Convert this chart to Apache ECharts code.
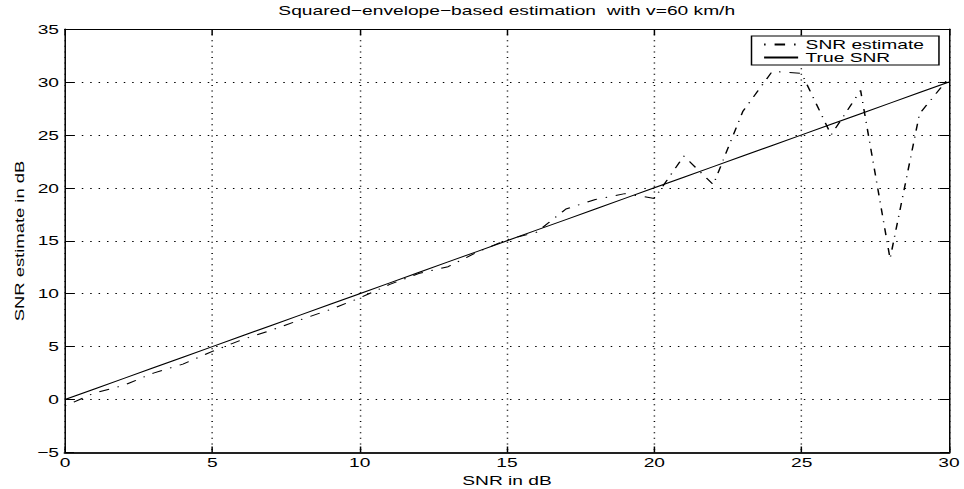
<!DOCTYPE html>
<html>
<head>
<meta charset="utf-8">
<script src="https://cdn.jsdelivr.net/npm/echarts@6/dist/echarts.min.js"></script>
<style>
  html, body { margin: 0; padding: 0; background: #fff; overflow: hidden; }
  #wrap { width: 964px; height: 489px; overflow: hidden; }
  /* the figure is laid out narrow and widened, as in the exported plot */
  #chart { width: 643px; height: 489px; transform: scaleX(1.49922); transform-origin: 0 0; }
</style>
</head>
<body>
<div id="wrap"><div id="chart"></div></div>
<script>
// SNR axis (dB)
const snrDb = [0, 1, 2, 3, 4, 5, 6, 7, 8, 9, 10, 11, 12, 13, 14, 15,
               16, 17, 18, 19, 20, 21, 22, 23, 24, 25, 26, 27, 28, 29, 30];
// squared-envelope-based estimate (dB)
const snrEstimate = [-0.6, 0.62, 1.35, 2.5, 3.35, 4.55, 5.65, 6.55, 7.55, 8.5, 9.6,
                     10.85, 11.9, 12.55, 13.95, 15.1, 15.8, 18.0, 18.9, 19.45, 19.0,
                     23.0, 20.3, 27.2, 31.0, 30.8, 25.0, 29.2, 13.3, 27.0, 30.4];
// reference: true SNR (dB)
const trueSnr = [0, 1, 2, 3, 4, 5, 6, 7, 8, 9, 10, 11, 12, 13, 14, 15,
                 16, 17, 18, 19, 20, 21, 22, 23, 24, 25, 26, 27, 28, 29, 30];

const seriesNames = ['SNR estimate', 'True SNR'];
const titleText = 'Squared\u2212envelope\u2212based estimation  with v=60 km/h';
const xAxisTitle = 'SNR in dB';
const yAxisTitle = 'SNR estimate in dB';

const WIDEN = 1.49922;   // horizontal widening applied to the whole figure
const FONT = "'Liberation Sans', Arial, Helvetica, sans-serif";
const FS = 12.8;
const minus = v => String(v).replace('-', '\u2212');

const dotted = { color: '#000', width: 1, type: [1, 4.6] };

const chart = echarts.init(document.getElementById('chart'), null, { renderer: 'svg' });

chart.setOption({
  backgroundColor: '#fff',
  animation: false,
  title: {
    text: titleText,
    left: 338,
    top: 4,
    padding: 0,
    textAlign: 'center',
    textStyle: { fontFamily: FONT, fontSize: FS, fontWeight: 'normal', color: '#000' }
  },
  grid: {
    left: 43.36, right: 10, top: 29, bottom: 36.5,
    containLabel: false,
    outerBoundsMode: 'none'
  },
  // vertical axis title: wide glyphs along the reading direction, like the other texts
  graphic: [{
    type: 'text',
    x: 13.34,
    y: 241,
    rotation: Math.PI / 2,
    scaleX: WIDEN,
    scaleY: 1 / WIDEN,
    style: {
      text: yAxisTitle,
      fontFamily: FONT,
      fontSize: 12.3,
      fill: '#000',
      align: 'center',
      verticalAlign: 'middle'
    }
  }],
  legend: {
    data: seriesNames,
    orient: 'vertical',
    right: 16.7,
    top: 36,
    itemWidth: 22.7,
    itemHeight: 13,
    itemGap: 0,
    padding: [2, 10, 1, 7.4],
    borderColor: '#000',
    borderWidth: 1,
    backgroundColor: '#fff',
    // line samples only, no marker in the middle
    itemStyle: { color: 'rgba(0,0,0,0)', borderWidth: 0 },
    textStyle: { fontFamily: FONT, fontSize: FS, color: '#000', lineHeight: 13 }
  },
  xAxis: [{
    type: 'value', min: 0, max: 30, interval: 5,
    name: xAxisTitle, nameLocation: 'middle', nameGap: 16,
    nameTextStyle: { fontFamily: FONT, fontSize: FS, color: '#000' },
    axisLine: { show: true, onZero: false, lineStyle: { color: '#222', width: 2 } },
    axisTick: { show: true, inside: true, length: 6, lineStyle: { color: '#000' } },
    axisLabel: { margin: 3, fontFamily: FONT, fontSize: FS, color: '#000', formatter: minus },
    splitLine: { show: true, lineStyle: dotted }
  }, {
    type: 'value', min: 0, max: 30, interval: 5, position: 'top',
    axisLine: { show: true, onZero: false, lineStyle: { color: '#000', width: 1 } },
    axisTick: { show: true, inside: true, length: 6, lineStyle: { color: '#000' } },
    axisLabel: { show: false },
    splitLine: { show: false }
  }],
  yAxis: [{
    type: 'value', min: -5, max: 35, interval: 5,
    axisLine: { show: true, onZero: false, lineStyle: { color: '#000', width: 1 } },
    axisTick: { show: true, inside: true, length: 6, lineStyle: { color: '#000' } },
    axisLabel: { margin: 4, fontFamily: FONT, fontSize: FS, color: '#000', formatter: minus },
    splitLine: { show: true, lineStyle: dotted }
  }, {
    type: 'value', min: -5, max: 35, interval: 5, position: 'right',
    axisLine: { show: true, onZero: false, lineStyle: { color: '#000', width: 1 } },
    axisTick: { show: true, inside: true, length: 6, lineStyle: { color: '#000' } },
    axisLabel: { show: false },
    splitLine: { show: false }
  }],
  series: [{
    name: seriesNames[0],
    type: 'line',
    symbol: 'none',
    data: snrDb.map((x, i) => [x, snrEstimate[i]]),
    lineStyle: { color: '#000', width: 1, type: [7, 6, 1, 6], dashOffset: 13 },
    itemStyle: { color: '#000' }
  }, {
    name: seriesNames[1],
    type: 'line',
    symbol: 'none',
    data: snrDb.map((x, i) => [x, trueSnr[i]]),
    lineStyle: { color: '#000', width: 1, type: 'solid' },
    itemStyle: { color: '#000' }
  }]
});
</script>
</body>
</html>
